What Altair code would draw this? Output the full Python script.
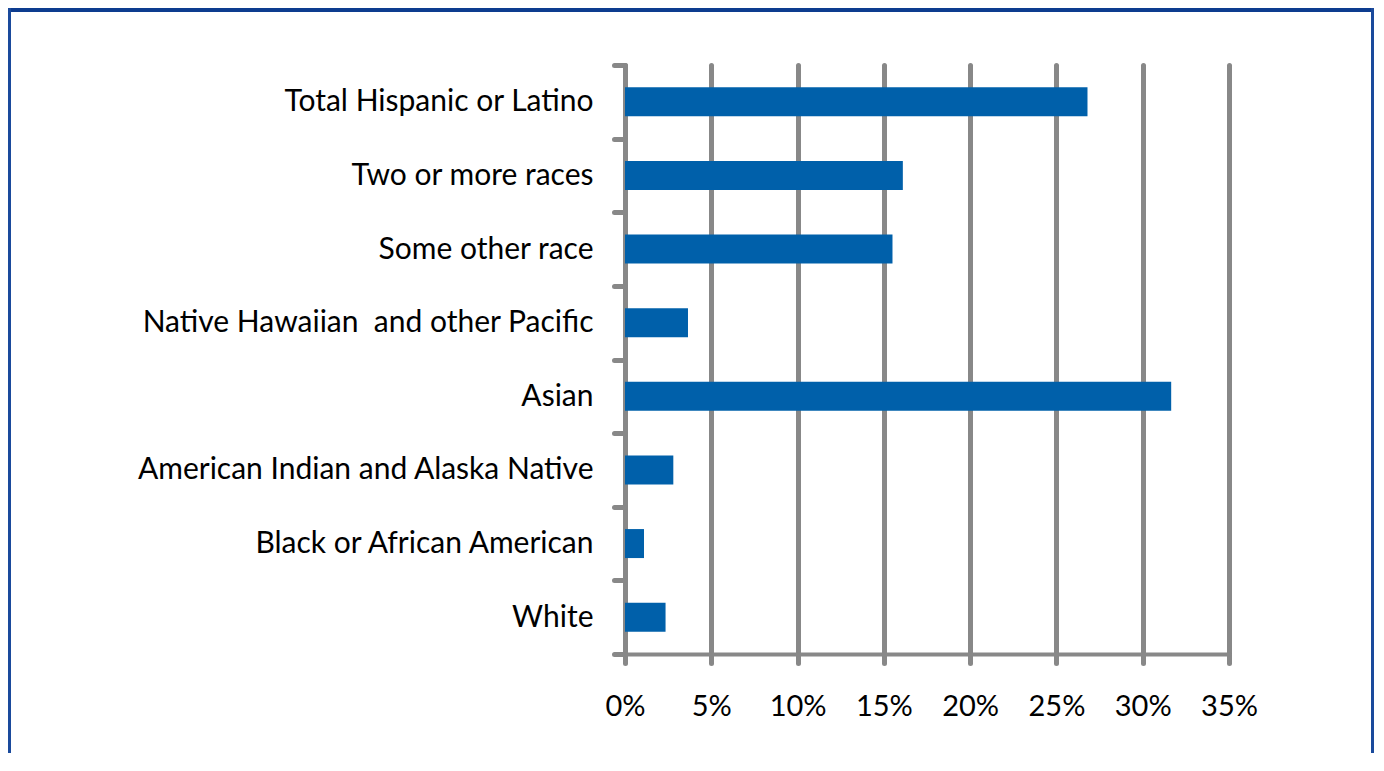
import altair as alt
import pandas as pd

categories = [
    "Total Hispanic or Latino",
    "Two or more races",
    "Some other race",
    "Native Hawaiian\u00a0 and other Pacific",
    "Asian",
    "American Indian and Alaska Native",
    "Black or African American",
    "White",
]
values = [26.8, 16.1, 15.5, 3.65, 31.65, 2.8, 1.1, 2.35]
x_ticks = [0, 5, 10, 15, 20, 25, 30, 35]

df = pd.DataFrame({"group": categories, "pct": values})
dummy = pd.DataFrame({"a": [0]})

GRID = "#888888"
BAR = "#0060AA"
FRAME = "#1a4a9c"
HEAD = "#0d3c8f"

PL, PT, PW, PH = 617, 57, 604, 589
SVG_W, SVG_H = 1366, 745

bars = alt.Chart(df).mark_bar(color=BAR, size=29).encode(
    x=alt.X(
        "pct:Q",
        scale=alt.Scale(domain=[0, 35], nice=False),
        axis=alt.Axis(
            values=x_ticks,
            title=None,
            grid=True,
            gridColor=GRID,
            gridWidth=5,
            gridOpacity=1,
            gridCap="round",
            domainColor=GRID,
            domainWidth=4,
            domainCap="round",
            tickColor=GRID,
            tickWidth=5,
            tickSize=9,
            tickCap="round",
            labelExpr="datum.value + '%'",
            labelFont="Lato",
            labelFontSize=29,
            labelColor="#000000",
            labelPadding=29,
            labelFlush=False,
        ),
    ),
    y=alt.Y(
        "group:N",
        sort=categories,
        scale=alt.Scale(paddingInner=0, paddingOuter=0),
        axis=alt.Axis(
            title=None,
            domain=False,
            grid=False,
            tickBand="extent",
            tickColor=GRID,
            tickWidth=5,
            tickSize=11,
            tickCap="round",
            labelFont="Lato",
            labelFontSize=30,
            labelColor="#000000",
            labelPadding=21,
            labelLimit=600,
        ),
    ),
)

header = alt.Chart(dummy).mark_rect(color=HEAD).encode(
    x=alt.value(-PL), x2=alt.value(SVG_W - PL),
    y=alt.value(-PT), y2=alt.value(-PT + 4),
)
left_border = alt.Chart(dummy).mark_rect(color=FRAME).encode(
    x=alt.value(-PL), x2=alt.value(-PL + 3),
    y=alt.value(-PT), y2=alt.value(SVG_H - PT),
)
right_border = alt.Chart(dummy).mark_rect(color=FRAME).encode(
    x=alt.value(SVG_W - PL - 3), x2=alt.value(SVG_W - PL),
    y=alt.value(-PT), y2=alt.value(SVG_H - PT),
)

chart = alt.layer(bars, header, left_border, right_border).properties(
    width=PW,
    height=PH,
    background="white",
    autosize=alt.AutoSizeParams(type="none"),
    padding={"left": PL, "top": PT, "right": SVG_W - PL - PW, "bottom": SVG_H - PT - PH},
).configure_view(stroke="transparent", strokeWidth=0)

chart.save("out.html", embed_options={"renderer": "svg", "actions": False})
